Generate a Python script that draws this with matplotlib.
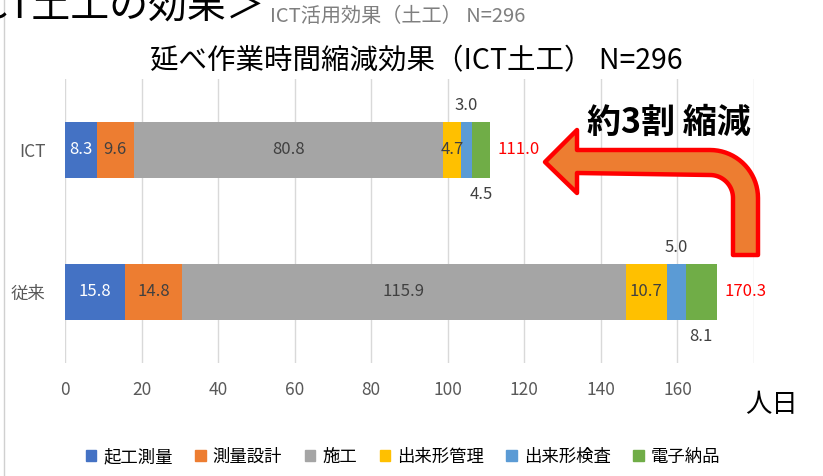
import numpy as np
import matplotlib
matplotlib.use("Agg")
import matplotlib.pyplot as plt
from matplotlib.path import Path
from matplotlib.patches import PathPatch, Patch

plt.rcParams['font.family'] = ['Noto Sans CJK JP', 'DejaVu Sans']

# data
categories = ["従来", "ICT"]
series = ["起工測量", "測量設計", "施工", "出来形管理", "出来形検査", "電子納品"]
conv_vals = [15.8, 14.8, 115.9, 10.7, 5.0, 8.1]
ict_vals = [8.3, 9.6, 80.8, 4.7, 3.0, 4.5]
totals = [170.3, 111.0]
xticks = [0, 20, 40, 60, 80, 100, 120, 140, 160]

colors = ["#4472C4", "#ED7D31", "#A5A5A5", "#FFC000", "#5B9BD5", "#70AD47"]
label_colors = ["white", "#404040", "#404040", "#404040", "#404040", "#404040"]
# where the value label goes: inside / above / below
label_pos = ["in", "in", "in", "in", "above", "below"]

W, H = 823, 476


def px(x, y):
    # pixel from top-left -> figure fraction
    return x / W, 1 - y / H


fig = plt.figure(figsize=(W / 100, H / 100), dpi=100)
ax = fig.add_axes([65 / W, 1 - 363 / H, (754 - 65) / W, (363 - 79) / H])

bar_h = 0.39
values = np.array([conv_vals, ict_vals])
left = np.zeros(2)
for j, name in enumerate(series):
    vals = values[:, j]
    ax.barh([0, 1], vals, left=left, height=bar_h, color=colors[j],
            edgecolor="none", label=name, zorder=3)
    for i in range(2):
        cx = left[i] + vals[i] / 2
        txt = f"{vals[i]:.1f}"
        if label_pos[j] == "in":
            ax.text(cx, i, txt, ha="center", va="center", fontsize=12,
                    color=label_colors[j], zorder=4)
        elif label_pos[j] == "above":
            ax.annotate(txt, (cx, i + bar_h / 2), xytext=(0, 17),
                        textcoords="offset pixels", ha="center", va="center",
                        fontsize=12, color="#404040")
        else:
            ax.annotate(txt, (cx, i - bar_h / 2), xytext=(0, -17),
                        textcoords="offset pixels", ha="center", va="center",
                        fontsize=12, color="#404040")
    left += vals

for i, t in enumerate(totals):
    ax.annotate(f"{t:.1f}", (t, i), xytext=(8, 0), textcoords="offset pixels",
                ha="left", va="center", fontsize=12, color="#FF0000")

ax.set_xlim(0, 180)
ax.set_ylim(-0.5, 1.5)
ax.set_xticks(xticks + [180])
ax.set_xticklabels([str(v) for v in xticks] + [""])
ax.set_yticks([0, 1])
ax.set_yticklabels(categories)
ax.tick_params(axis="x", length=0, pad=13, labelsize=12.5, labelcolor="#595959")
ax.tick_params(axis="y", length=0, pad=14, labelsize=12.5, labelcolor="#595959")
ax.grid(axis="x", color="#D9D9D9", linewidth=1, zorder=0)
for s in ax.spines.values():
    s.set_visible(False)

# titles
fig.text(*px(416, 61), "延べ作業時間縮減効果（ICT土工） N=296", ha="center",
         va="center", fontsize=20.5, color="black")
fig.text(*px(270, 17), "ICT活用効果（土工） N=296", ha="left", va="center",
         fontsize=14.5, color="#7F7F7F")
fig.text(*px(266, 8), "＜ICT土工の効果＞", ha="right", va="center",
         fontsize=28, color="black")
fig.add_artist(plt.Line2D([4 / W, 4 / W], [0, 1], color="#D0D0D0", lw=1))

# unit
fig.text(*px(772, 405), "人日", ha="center", va="center", fontsize=19,
         color="black")

# bent arrow (decoration)
cx, cy, r_out, r_in = 710, 198, 48, 23
t = np.linspace(-np.pi / 2, 0, 20)
outer = [(cx + r_out * np.cos(a), cy + r_out * np.sin(a)) for a in t]
inner = [(cx + r_in * np.cos(a), cy + r_in * np.sin(a)) for a in t[::-1]]
pts = [(545, 162), (577, 130), (577, 150)] + outer + [(758, 255), (733, 255)] \
    + inner + [(577, 173), (577, 193), (545, 162)]
verts = [px(x, y) for x, y in pts]
codes = [Path.MOVETO] + [Path.LINETO] * (len(verts) - 2) + [Path.CLOSEPOLY]
arrow = PathPatch(Path(verts, codes), transform=fig.transFigure,
                  facecolor="#ED7D31", edgecolor="#FF0000", lw=3.2,
                  joinstyle="round")
fig.add_artist(arrow)
fig.text(*px(669, 122), "約3割 縮減", ha="center", va="center", fontsize=24.5,
         fontweight="bold", color="black")

# legend
handles = [Patch(color=c, label=n) for c, n in zip(colors, series)]
fig.legend(handles=handles, loc="center", bbox_to_anchor=px(403, 457),
           ncol=6, frameon=False, fontsize=12.5, handlelength=0.6,
           handleheight=0.6, handletextpad=0.4, columnspacing=1.3)

fig.savefig("out.png", dpi=100)
